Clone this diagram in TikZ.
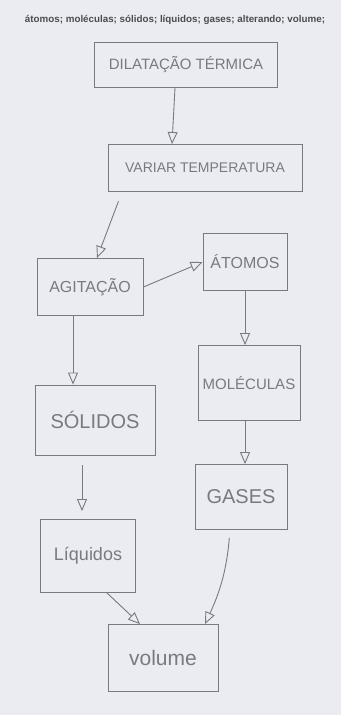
\documentclass[tikz,border=0pt]{standalone}
\usepackage{fontspec}
\setmainfont{Liberation Sans}
\usetikzlibrary{arrows.meta, positioning}
\definecolor{paper}{RGB}{234, 236, 241}
\definecolor{pencil}{RGB}{120, 122, 128}

\begin{document}
\begin{tikzpicture}[
  x=1pt, y=-1pt,
  box/.style={draw=pencil, line width=0.9pt, text=pencil, inner sep=0pt, font=\fontsize{16}{17}\selectfont},
  arr/.style={-{Triangle[open, length=12pt, width=10pt]}, draw=pencil, line width=0.9pt}
]
  \fill[paper] (0,0) rectangle (341,715);
  \useasboundingbox (0,0) rectangle (341,715);

  % word list
  \node[font=\bfseries\fontsize{9.8}{11}\selectfont, text=black!70] (words) at (175,20)
    {átomos; moléculas; sólidos; líquidos; gases; alterando; volume;};

  \node[box, minimum width=183pt, minimum height=45pt, font=\fontsize{15}{16}\selectfont] (dil) at (186,65) {DILATAÇÃO TÉRMICA};
  \node[box, minimum width=194pt, minimum height=47pt, font=\fontsize{14}{15}\selectfont] (var) at (205,168) {VARIAR TEMPERATURA};

  % left branch
  \node[box, minimum width=106pt, minimum height=57pt] (agit) at (90,287) {AGITAÇÃO};
  \node[box, minimum width=120pt, minimum height=70pt, font=\fontsize{20}{21}\selectfont] (sol) at (95,420) {SÓLIDOS};
  \node[box, minimum width=95pt, minimum height=73pt, font=\fontsize{18}{19}\selectfont] (liq) at (88,556) {Líquidos};

  % right branch
  \node[box, minimum width=84pt, minimum height=57pt] (atom) at (245,262) {ÁTOMOS};
  \node[box, minimum width=102pt, minimum height=75pt, font=\fontsize{15}{16}\selectfont] (mol) at (249,383) {MOLÉCULAS};
  \node[box, minimum width=92pt, minimum height=65pt, font=\fontsize{20}{21}\selectfont] (gas) at (241,497) {GASES};

  \node[box, minimum width=110pt, minimum height=67pt, font=\fontsize{21}{22}\selectfont] (vol) at (163,658) {volume};

  \draw[arr] ([xshift=-11pt]dil.south) -- ([xshift=-33pt]var.north);
  \draw[arr, shorten <=10pt] ([xshift=-83pt]var.south) -- ([xshift=7pt]agit.north);
  \draw[arr] (agit.east) -- (atom.west);
  \draw[arr] ([xshift=-17pt]agit.south) -- ([xshift=-22pt]sol.north);
  \draw[arr] (atom.south) -- ([xshift=-4pt]mol.north);
  \draw[arr] ([xshift=-4pt]mol.south) -- ([xshift=4pt]gas.north);
  \draw[arr, shorten <=10pt, shorten >=8pt] ([xshift=-13pt]sol.south) -- ([xshift=-6pt]liq.north);
  \draw[arr] ([xshift=19pt]liq.south) -- ([xshift=-23pt]vol.north);
  \draw[arr, shorten <=8pt] ([xshift=-11pt]gas.south) to[bend left=10] ([xshift=42pt]vol.north);
\end{tikzpicture}
\end{document}
